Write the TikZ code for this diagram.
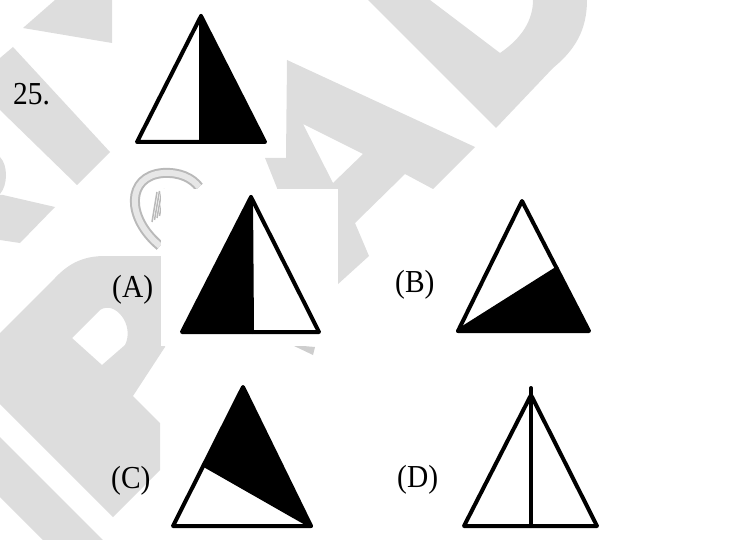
\documentclass[tikz,border=0pt]{standalone}
\usepackage{fontspec}
\setmainfont{Liberation Serif}
\usetikzlibrary{calc}
\definecolor{wmgrey}{RGB}{221,221,221}
\definecolor{logogrey}{RGB}{185,185,185}
\tikzset{
  wm/.style={fill=wmgrey, draw=none},
  tri/.style={draw=black, line width=4pt, line join=round, line cap=round},
  blk/.style={fill=black, draw=none},
  lbl/.style={font=\fontsize{32}{36}\selectfont, inner sep=0pt, anchor=base west}
}
\newcommand{\lbltext}[1]{\scalebox{0.92}[1]{#1}}
\begin{document}
\begin{tikzpicture}[x=1pt,y=-1pt]
\useasboundingbox (0,0) rectangle (733,540);
% ---------- watermark ----------
\fill[wm] (23,28) -- (55,0) -- (112,0) -- (112,43) -- cycle;
\fill[wm] (0,58) -- (13,47) -- (110,152) -- (77,185) -- (0,110) -- cycle;
\fill[wm] (0,157) .. controls (8,165) and (8,185) .. (0,194) -- cycle;
\fill[wm] (3,195) -- (55,207) -- (20,243) -- (0,240) -- (0,195) -- cycle;
\fill[wm, even odd rule] (287,60) -- (475,147) -- (433,189) -- (405,174) -- (355,223)
  -- (369,256) -- (337,285) -- (300,300) -- (277,188) -- (265,158) -- (286,158) -- cycle
  (303,124) -- (363,154) -- (333,183) -- cycle;
\fill[wm] (368,0) -- (430,0) -- (500,53) .. controls (522,38) and (533,20) .. (533,0)
  -- (587,0) .. controls (587,30) and (575,50) .. (553,68) -- (496,128) -- cycle;
% P
\fill[wm, even odd rule] (0,333) -- (55,278) .. controls (70,262) and (85,256) .. (105,256)
  -- (165,256) -- (165,347) -- (133,396) -- (160,423) -- (160,470) -- (113,517) -- (0,404) -- cycle
  (72,338) -- (100,310) .. controls (115,300) and (135,325) .. (125,345) -- (102,365) -- cycle;
% M
\fill[wm] (0,437) -- (103,540) -- (43,540) -- (0,497) -- cycle;
% logo
\draw[logogrey, line width=10pt] (160,246) .. controls (126,218) and (126,176) .. (163,173)
  .. controls (180,172) and (192,178) .. (199,187);
\draw[wmgrey!70, line width=6pt] (160,246) .. controls (126,218) and (126,176) .. (163,173)
  .. controls (180,172) and (192,178) .. (199,187);
\foreach \i in {0,1,2,3}{
  \draw[logogrey, line width=1.5pt] (152+2.5*\i,222-2*\i) -- (157+2.5*\i,192-1*\i);
}
\fill[logogrey!70] (292,345) -- (315,347) -- (313,355) -- cycle;
% white patch behind option A
\fill[white] (161,189) rectangle (338,346);
% ---------- question figure ----------
\coordinate (qT) at (201,16);
\coordinate (qL) at (137,142);
\coordinate (qR) at (265,142);
\coordinate (qM) at (201,142);
\fill[blk] (qT) -- (qR) -- (qM) -- cycle;
\draw[tri] (qT) -- (qL) -- (qR) -- cycle;
\draw[tri] (qT) -- (qM);
\node[lbl] (q25) at (13,105) {\lbltext{25.}};
% ---------- option A ----------
\coordinate (aT) at (251,197);
\coordinate (aL) at (182,332);
\coordinate (aR) at (319,332);
\coordinate (aM) at (252,332);
\fill[blk] (aT) -- (aL) -- (aM) -- cycle;
\draw[tri] (aT) -- (aL) -- (aR) -- cycle;
\draw[tri] (aT) -- (aM);
\node[lbl] (la) at (112,297) {\lbltext{(A)}};
% ---------- option B ----------
\coordinate (bT) at (522,201);
\coordinate (bL) at (458,331);
\coordinate (bR) at (589,331);
\coordinate (bP) at ($(bT)!0.52!(bR)$);
\fill[blk] (bL) -- (bP) -- (bR) -- cycle;
\draw[tri] (bT) -- (bL) -- (bR) -- cycle;
\draw[tri] (bL) -- (bP);
\node[lbl] (lb) at (395,292) {\lbltext{(B)}};
% ---------- option C ----------
\coordinate (cT) at (243,387);
\coordinate (cL) at (173,526);
\coordinate (cR) at (311,526);
\coordinate (cP) at ($(cT)!0.56!(cL)$);
\fill[blk] (cT) -- (cP) -- (cR) -- cycle;
\draw[tri] (cT) -- (cL) -- (cR) -- cycle;
\draw[tri] (cP) -- (cR);
\node[lbl] (lc) at (111,488) {\lbltext{(C)}};
% ---------- option D ----------
\coordinate (dT) at (531,395);
\coordinate (dL) at (464,526);
\coordinate (dR) at (597,526);
\coordinate (dTop) at (531,388);
\coordinate (dM) at (531,526);
\draw[tri] (dT) -- (dL) -- (dR) -- cycle;
\draw[tri] (dTop) -- (dM);
\node[lbl] (ld) at (397,487) {\lbltext{(D)}};
\end{tikzpicture}
\end{document}
